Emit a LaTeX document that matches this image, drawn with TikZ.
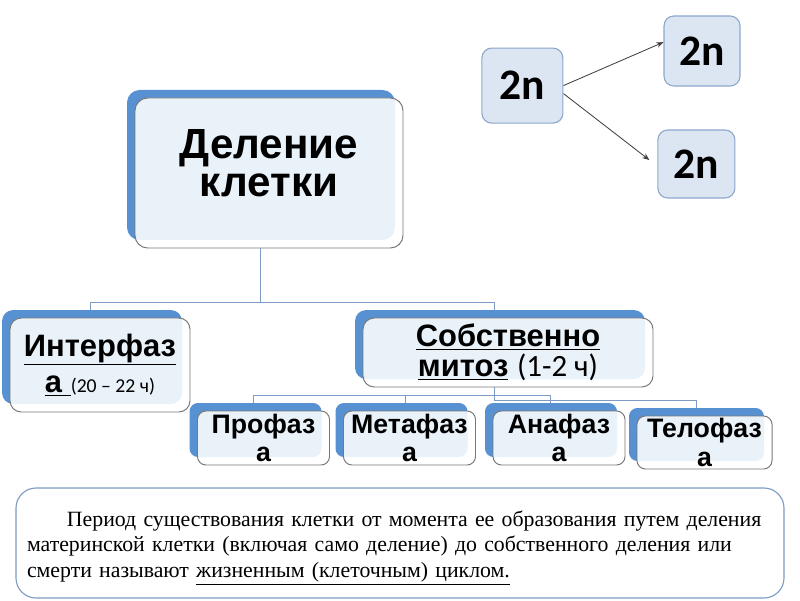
\documentclass[tikz,border=0pt]{standalone}
\usepackage{fontspec}
\setmainfont{Liberation Sans}
\newfontfamily\calfont{Carlito}
\newfontfamily\romfont{Liberation Serif}
\usetikzlibrary{positioning,arrows.meta,calc,shadows}
\definecolor{backblue}{RGB}{87,145,210}
\definecolor{rimgray}{RGB}{120,120,120}
\definecolor{linkblue}{RGB}{125,155,195}
\definecolor{nfill}{RGB}{220,230,242}
\definecolor{ndraw}{RGB}{140,168,205}

\begin{document}
\begin{tikzpicture}[
  stepbox/.style={draw=rimgray, line width=0.7pt, rounded corners=6pt,
                  fill=white, fill opacity=0.875, text opacity=1, draw opacity=1,
                  align=center, inner sep=0pt,
                  general shadow={fill=backblue, fill opacity=1,
                                  shadow xshift=-0.2cm, shadow yshift=0.2cm}},
  phase/.style  ={stepbox, minimum width=3.3cm, minimum height=1.35cm,
                  font=\fontsize{19}{20}\selectfont\bfseries},
  nbox/.style   ={draw=ndraw, fill=nfill, rounded corners=7pt, line width=0.8pt,
                  font=\calfont\bfseries\fontsize{31}{31}\selectfont,
                  minimum width=2cm, minimum height=1.8cm},
  notebox/.style={draw=linkblue, fill=white, rounded corners=0.5cm, line width=0.8pt,
                  align=left, minimum width=19.2cm, minimum height=2.75cm,
                  text width=18.65cm, inner xsep=0.275cm,
                  font=\romfont\fontsize{15.5}{18.1}\selectfont},
  link/.style   ={draw=linkblue, line width=0.7pt},
  arr/.style    ={-{Stealth[length=5pt,width=4pt]}, draw=black!75, line width=0.6pt}]

\useasboundingbox (0,0) rectangle (20,15);

%% ── Top right: 2n -> 2n + 2n ─────────────────────────────────────
\node[nbox, minimum width=2.025cm, minimum height=1.875cm] (n0) at (13.06,12.86) {2n};
\node[nbox, minimum width=1.9cm,   minimum height=1.75cm]  (n1) at (17.55,13.725) {2n};
\node[nbox, minimum width=1.925cm, minimum height=1.7cm]   (n2) at (17.41,10.9) {2n};

%% ── Cell division ────────────────────────────────────────────────
\node[stepbox, rounded corners=9pt, minimum width=6.7cm, minimum height=3.75cm,
      font=\fontsize{30}{27}\selectfont\bfseries] (div) at (6.725,10.675)
      {Деление\\клетки\\[-13pt]\mbox{}};

%% ── Row 2: interphase and mitosis ────────────────────────────────
\node[stepbox, rounded corners=8pt, minimum width=4.5cm, minimum height=2.35cm,
      font=\fontsize{22}{26}\selectfont\bfseries] (inter) at (2.5,5.875)
      {\underline{Интерфаз}\\\underline{а\ }{\calfont\mdseries\fontsize{14}{14}\selectfont(20 – 22 ч)}};
\node[stepbox, rounded corners=8pt, minimum width=7.25cm, minimum height=1.725cm,
      font=\fontsize{22}{21.5}\selectfont\bfseries] (mitoz) at (12.7,6.1875)
      {\underline{Собственно}\\\underline{митоз} {\calfont\mdseries(1-2 ч)}};

%% ── Row 3: phases ────────────────────────────────────────────────
\node[phase] (pro)  at (6.5875,4.05)  {Профаз\\а};
\node[phase] (meta) at (10.2375,4.05) {Метафаз\\а};
\node[phase] (ana)  at (13.975,4.05)  {Анафаз\\а};
\node[phase, minimum width=3.375cm, minimum height=1.325cm] (telo) at (17.6125,3.9375) {Телофаз\\а};

%% ── Note ─────────────────────────────────────────────────────────
\node[notebox] (note) at (10,1.425)
  {\mbox{}\\
   \hspace*{1cm}Период существования клетки от момента ее образования путем деления\\
   материнской клетки (включая само деление) до собственного деления или\\
   смерти называют \underline{жизненным (клеточным) циклом.}};

%% ── Arrows: 2n ───────────────────────────────────────────────────
\draw[arr] (n0.east) -- ($(n1.west)+(0,0.22)$);
\draw[arr] ($(n0.east)+(0,-0.2)$) -- ($(n2.west)+(-0.2,0.1)$);

%% ── Tree: division -> interphase, mitosis ────────────────────────
\coordinate (bus1) at ($(div.south)+(-0.22,-1.35)$);
\draw[link] ($(div.south)+(-0.22,0)$) -- (bus1);
\draw[link] ($(inter.north)+(-0.25,0.2)$) |- (bus1) -| ($(mitoz.north)+(-0.35,0.2)$);

%% ── Tree: mitosis -> phases ──────────────────────────────────────
\coordinate (bus2) at ($(mitoz.south)+(-0.35,-0.2)$);
\draw[link] ($(mitoz.south)+(-0.35,0)$) -- ++(0,-0.325) -| ($(telo.north)+(-0.2,0.2)$);
\draw[link] ($(pro.north)+(-0.24,0.2)$) |- (bus2) -| ($(ana.north)+(-0.22,0.2)$);
\draw[link] ($(meta.north)+(-0.11,0.2)$) -- ++(0,0.2);
\end{tikzpicture}
\end{document}
